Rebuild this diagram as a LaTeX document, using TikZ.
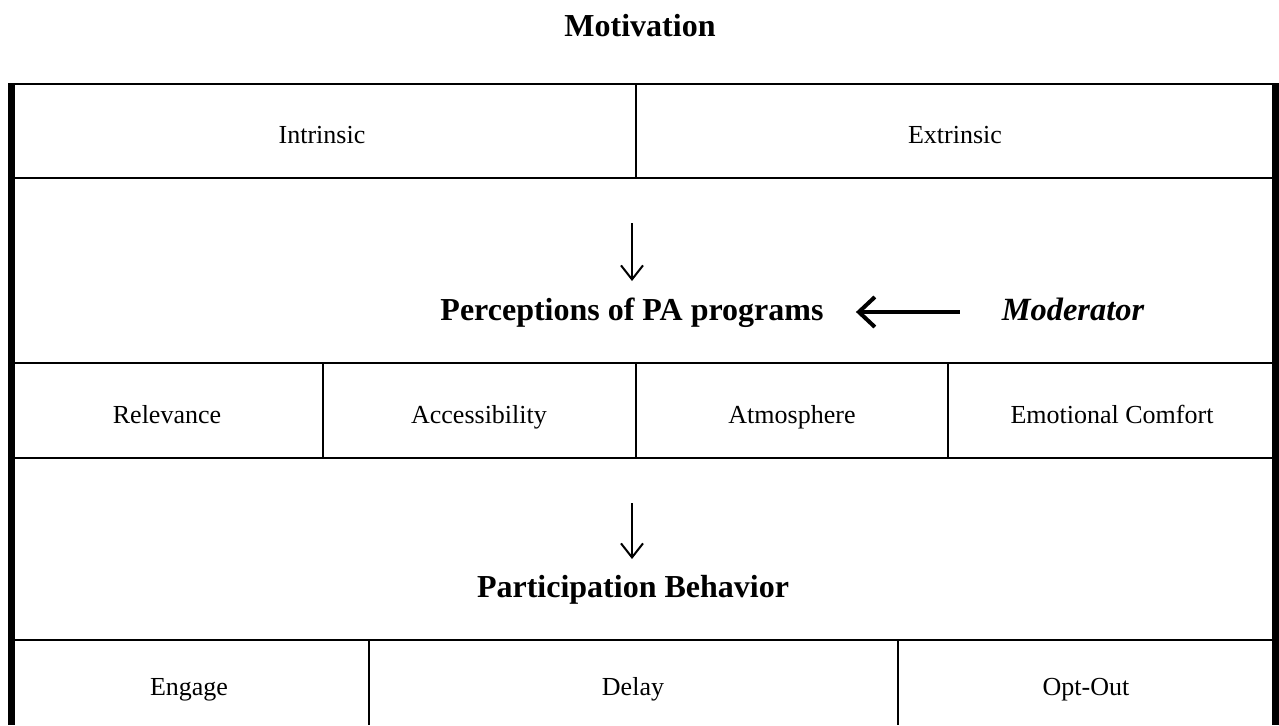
\documentclass[tikz,border=0pt]{standalone}
\usepackage{fontspec}
\setmainfont{Liberation Serif}
\usetikzlibrary{calc}
\usetikzlibrary{arrows.meta}

\begin{document}
\begin{tikzpicture}[x=0.5pt, y=-0.5pt]
            \tikzstyle{cell} = [inner sep=0pt, anchor=base, font=\fontsize{13}{15}\selectfont]
            \tikzstyle{heading} = [inner sep=0pt, anchor=base, font=\fontsize{16}{19}\selectfont\bfseries]
            \tikzstyle{rule} = [line width=1pt, draw=black]
            \tikzstyle{border} = [line width=3.75pt, draw=black]
            \tikzstyle{flow} = [line width=1pt, -{Straight Barb[length=7pt, width=11pt, line width=1pt]}]
            \tikzstyle{push} = [line width=2pt, -{Straight Barb[length=8pt, width=15pt, line width=2pt]}]

            \useasboundingbox (0, 0) rectangle (1279, 725);

            % frame and grid
            \draw[border] (11.5, 83) -- (11.5, 725);
            \draw[border] (1275.5, 83) -- (1275.5, 725);
            \foreach \y in {84, 178, 363, 458, 640}
                \draw[rule] (11.5, \y) -- (1275.5, \y);
            \draw[rule] (636, 84) -- (636, 178);
            \foreach \x in {323, 636, 948}
                \draw[rule] (\x, 363) -- (\x, 458);
            \foreach \x in {369, 898}
                \draw[rule] (\x, 640) -- (\x, 725);

            % texts
            \node[heading] (motivation) at (640, 36) {Motivation};
            \node[cell] (intrinsic) at (322, 143) {Intrinsic};
            \node[cell] (extrinsic) at (955, 143) {Extrinsic};
            \node[heading] (perceptions) at (632, 320) {Perceptions of PA programs};
            \node[heading, font=\fontsize{16.2}{19}\selectfont\bfseries\itshape] (moderator) at (1073, 320) {Moderator};
            \node[cell] (relevance) at (167, 423) {Relevance};
            \node[cell] (accessibility) at (479, 423) {Accessibility};
            \node[cell] (atmosphere) at (792, 423) {Atmosphere};
            \node[cell] (comfort) at (1112, 423) {Emotional Comfort};
            \node[heading] (participation) at (633, 597) {Participation Behavior};
            \node[cell] (engage) at (189, 695) {Engage};
            \node[cell] (delay) at (633, 695) {Delay};
            \node[cell] (optout) at (1086, 695) {Opt-Out};

            % arrows
            \coordinate (flow1 top) at (632, 223);
            \coordinate (flow1 tip) at (632, 281);
            \coordinate (flow2 top) at (632, 503);
            \coordinate (flow2 tip) at (632, 559);
            \draw[flow] (flow1 top) -- (flow1 tip);
            \draw[flow] (flow2 top) -- (flow2 tip);
            \draw[push, shorten <=21pt, shorten >=16pt] ($(moderator.base west) + (0, -8)$) -- ($(perceptions.base east) + (0, -8)$);
        \end{tikzpicture}
\end{document}
